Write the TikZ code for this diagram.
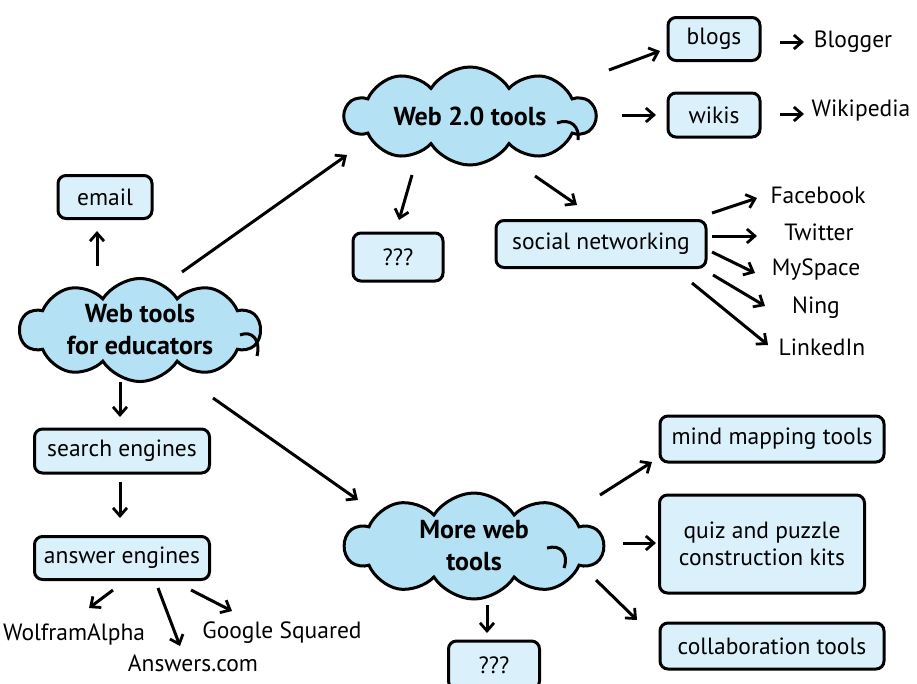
\documentclass[tikz,border=0pt]{standalone}
\usepackage{fontspec}
\setmainfont{PT Sans}
\usetikzlibrary{arrows.meta,shapes.symbols}
\definecolor{cloudblue}{HTML}{B5E1F4}
\definecolor{boxblue}{HTML}{DAF0FA}
\tikzset{
  boxnode/.style={draw=black,line width=3pt,rounded corners=8pt,fill=boxblue,font=\fontsize{23.5}{27}\selectfont,inner sep=0pt,align=center},
  cloudnode/.style={cloud,cloud puffs=10,cloud puff arc=115,cloud ignores aspect,draw=black,line width=3pt,fill=cloudblue,inner sep=0pt,align=center,font=\fontsize{26}{32}\selectfont\bfseries},
  plain/.style={font=\fontsize{23.5}{27}\selectfont,inner sep=0pt},
  arr/.style={line width=3pt,-{Straight Barb[length=8pt,width=14pt,line width=2.8pt]}},
  curl/.style={line width=3pt}
}
\begin{document}
\begin{tikzpicture}[x=1pt,y=-1pt]
\useasboundingbox (0,0) rectangle (917,683);
% clouds
\node[cloudnode,minimum width=240pt,minimum height=95pt] (wt) at (140,330) {Web tools\\for educators};
\node[cloudnode,minimum width=250pt,minimum height=98pt] (w2) at (470,116) {Web 2.0 tools};
\node[cloudnode,minimum width=258pt,minimum height=106pt] (mw) at (474,546) {More web\\tools};
% boxes
\node[boxnode,minimum width=94pt,minimum height=43pt] (email) at (105,197) {email};
\node[boxnode,minimum width=92pt,minimum height=43pt] (blogs) at (714,39) {blogs};
\node[boxnode,minimum width=92pt,minimum height=44pt] (wikis) at (714,115) {wikis};
\node[boxnode,minimum width=90pt,minimum height=48pt] (q1) at (398,257) {???};
\node[boxnode,minimum width=210pt,minimum height=47pt] (sn) at (601,244) {social networking};
\node[boxnode,minimum width=175pt,minimum height=44pt] (se) at (122,451) {search engines};
\node[boxnode,minimum width=175pt,minimum height=43pt] (ae) at (122,558) {answer engines};
\node[boxnode,minimum width=224pt,minimum height=46pt] (mm) at (772,439) {mind mapping tools};
\node[boxnode,minimum width=205pt,minimum height=98pt] (qz) at (762,544) {quiz and puzzle\\construction kits};
\node[boxnode,minimum width=224pt,minimum height=46pt] (co) at (772,646) {collaboration tools};
\node[boxnode,minimum width=91pt,minimum height=48pt] (q2) at (494,665) {???};
% plain texts
\node[plain] (blogger) at (853,42) {Blogger};
\node[plain] (wiki) at (861,111) {Wikipedia};
\node[plain] (fb) at (818,195) {Facebook};
\node[plain] (tw) at (819,232) {Twitter};
\node[plain] (ms) at (816,270) {MySpace};
\node[plain] (ni) at (816,308) {Ning};
\node[plain] (li) at (822,347) {LinkedIn};
\node[plain] (wa) at (74,634) {WolframAlpha};
\node[plain] (an) at (193,663) {Answers.com};
\node[plain] (gs) at (282,633) {Google Squared};
% arrow anchor coordinates
\coordinate (a1s) at (97,266); \coordinate (a1e) at (97,231);
\coordinate (a2s) at (182,272); \coordinate (a2e) at (347,155);
\coordinate (a3s) at (609,70); \coordinate (a3e) at (660,51);
\coordinate (a4s) at (622,115); \coordinate (a4e) at (656,115);
\coordinate (a5s) at (780,42); \coordinate (a5e) at (804,42);
\coordinate (a6s) at (780,114); \coordinate (a6e) at (804,114);
\coordinate (a7s) at (412,175); \coordinate (a7e) at (399,220);
\coordinate (a8s) at (535,176); \coordinate (a8e) at (577,205);
\coordinate (b1s) at (712,213); \coordinate (b1e) at (757,198);
\coordinate (b2s) at (712,236); \coordinate (b2e) at (757,236);
\coordinate (b3s) at (712,252); \coordinate (b3e) at (755,273);
\coordinate (b4s) at (713,275); \coordinate (b4e) at (765,306);
\coordinate (b5s) at (692,283); \coordinate (b5e) at (768,345);
\coordinate (c1s) at (120,382); \coordinate (c1e) at (120,417);
\coordinate (c2s) at (120,482); \coordinate (c2e) at (120,518);
\coordinate (c3s) at (113,590); \coordinate (c3e) at (89,608);
\coordinate (c4s) at (158,588); \coordinate (c4e) at (180,646);
\coordinate (c5s) at (191,590); \coordinate (c5e) at (232,611);
\coordinate (d1s) at (213,398); \coordinate (d1e) at (358,500);
\coordinate (d2s) at (600,495); \coordinate (d2e) at (652,462);
\coordinate (d3s) at (623,543); \coordinate (d3e) at (656,543);
\coordinate (d4s) at (596,580); \coordinate (d4e) at (637,620);
\coordinate (d5s) at (487,605); \coordinate (d5e) at (487,633);
\foreach \a in {a1,a2,a3,a4,a5,a6,a7,a8,b1,b2,b3,b4,b5,c1,c2,c3,c4,c5,d1,d2,d3,d4,d5}
  \draw[arr] (\a s) -- (\a e);
% small curls on clouds
\draw[curl] (240,335) .. controls (252,330) and (261,340) .. (257,356);
\draw[curl] (557,123) .. controls (570,118) and (580,126) .. (578,140);
\draw[curl] (547,548) .. controls (561,544) and (569,554) .. (564,568);
\end{tikzpicture}
\end{document}
